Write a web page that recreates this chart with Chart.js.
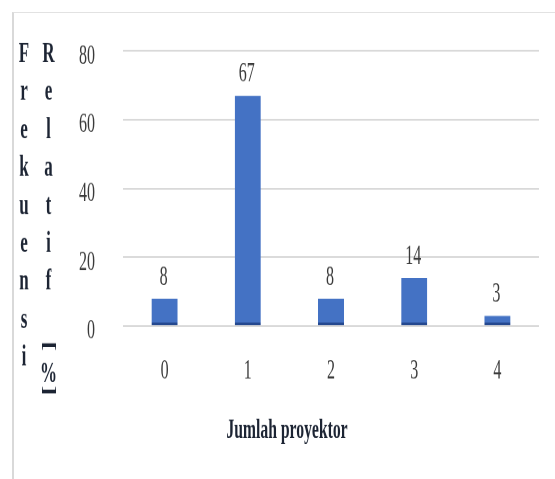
<!DOCTYPE html>
<html>
<head>
<meta charset="utf-8">
<script src="https://cdn.jsdelivr.net/npm/chart.js@4/dist/chart.umd.min.js"></script>
<style>
  html, body { margin: 0; padding: 0; background: #fff; }
  body { width: 555px; height: 479px; overflow: hidden; position: relative; }
  /* thin frame around the chart box */
  #frame {
    position: absolute; left: 12px; top: 12px; right: 0; bottom: 0;
    border-top: 1px solid #e2e2e2; border-left: 2px solid #d9d9d9;
    box-sizing: border-box;
  }
  /* the drawing is made on a shorter canvas and stretched to full height,
     which gives the tall, narrow lettering of the figure */
  #wrap {
    position: absolute; left: 0; top: 0; width: 555px; height: 274px;
    transform: scaleY(1.7482); transform-origin: 0 0;
  }
</style>
</head>
<body>
<div id="frame"></div>
<div id="wrap"><canvas id="chart"></canvas></div>
<script>
// Number of projectors vs. relative frequency (%)
const categories = ['0', '1', '2', '3', '4'];
const relativeFrequency = [8, 67, 8, 14, 3];
const yTicks = [0, 20, 40, 60, 80];
const xAxisTitle = 'Jumlah proyektor';
const yAxisTitleWords = ['Frekuensi', 'Relatif', '[%]'];

const SERIF = '"Liberation Serif", "Times New Roman", serif';
const TEXT_DARK = '#1c2433';
const TICK_COLOR = '#3a3a3a';

// value labels above each bar
const barValueLabels = {
  id: 'barValueLabels',
  afterDatasetsDraw(chart) {
    const ctx = chart.ctx;
    const meta = chart.getDatasetMeta(0);
    const values = chart.data.datasets[0].data;
    ctx.save();
    ctx.font = '16px ' + SERIF;
    ctx.fillStyle = TICK_COLOR;
    ctx.textAlign = 'center';
    ctx.textBaseline = 'alphabetic';
    meta.data.forEach((bar, i) => {
      ctx.fillText(String(values[i]), bar.x - 1, bar.y - 8);
    });
    ctx.restore();
  }
};

// axis titles: stacked vertical letters on the left, bold caption below
const axisTitles = {
  id: 'axisTitles',
  afterDraw(chart) {
    const ctx = chart.ctx;
    ctx.save();
    ctx.fillStyle = TEXT_DARK;
    ctx.textAlign = 'center';
    ctx.textBaseline = 'alphabetic';

    // x title, centred under the frame
    ctx.font = 'bold 15.7px ' + SERIF;
    ctx.fillText(xAxisTitle, 287, 250.5);

    // y title, one letter per row in two columns
    ctx.font = 'bold 17px ' + SERIF;
    const firstBaseline = 35.5, step = 21.7;
    const colX = [24, 48.5];
    [...yAxisTitleWords[0]].forEach((ch, i) => {
      ctx.fillText(ch, colX[0], firstBaseline + i * step);
    });
    [...yAxisTitleWords[1]].forEach((ch, i) => {
      ctx.fillText(ch, colX[1], firstBaseline + i * step);
    });
    // unit "[%]": brackets turned sideways as in vertical text
    const unit = [...yAxisTitleWords[2]];
    const pctBase = 218.5;
    ctx.fillText(unit[1], colX[1], pctBase);
    const drawTurned = (ch, cy) => {
      ctx.save();
      ctx.translate(colX[1], cy);
      ctx.rotate(Math.PI / 2);
      ctx.textBaseline = 'middle';
      ctx.fillText(ch, 0, 0);
      ctx.restore();
    };
    drawTurned(unit[0], pctBase - 20.5);
    drawTurned(unit[2], pctBase + 5);
    ctx.restore();
  }
};

new Chart(document.getElementById('chart'), {
  type: 'bar',
  data: {
    labels: categories,
    datasets: [{
      data: relativeFrequency,
      backgroundColor: '#4472c4',
      borderColor: '#24488f',
      borderWidth: { top: 0, right: 0, bottom: 1.5, left: 0 },
      borderSkipped: false,
      categoryPercentage: 1,
      barPercentage: 0.3125
    }]
  },
  options: {
    responsive: true,
    maintainAspectRatio: false,
    devicePixelRatio: 2,
    animation: false,
    layout: { padding: { top: 29.17, right: 16, bottom: 0, left: 0 } },
    plugins: { legend: { display: false }, tooltip: { enabled: false } },
    scales: {
      x: {
        grid: { display: false, drawTicks: false },
        border: { display: false },
        ticks: { padding: 16, color: TICK_COLOR, font: { family: SERIF, size: 16 } },
        afterFit(scale) { scale.height = 87.5; }
      },
      y: {
        min: yTicks[0],
        max: yTicks[yTicks.length - 1],
        afterBuildTicks(scale) { scale.ticks = yTicks.map(v => ({ value: v })); },
        // invisible tick marks keep the labels clear of the grid
        grid: {
          color: '#d9d9d9', lineWidth: 1,
          drawTicks: true, tickLength: 28, tickColor: 'rgba(0,0,0,0)'
        },
        border: { display: false },
        ticks: {
          padding: 0, labelOffset: 3, color: TICK_COLOR,
          font: { family: SERIF, size: 16 }
        },
        afterFit(scale) { scale.width = 123; }
      }
    }
  },
  plugins: [barValueLabels, axisTitles]
});
</script>
</body>
</html>
